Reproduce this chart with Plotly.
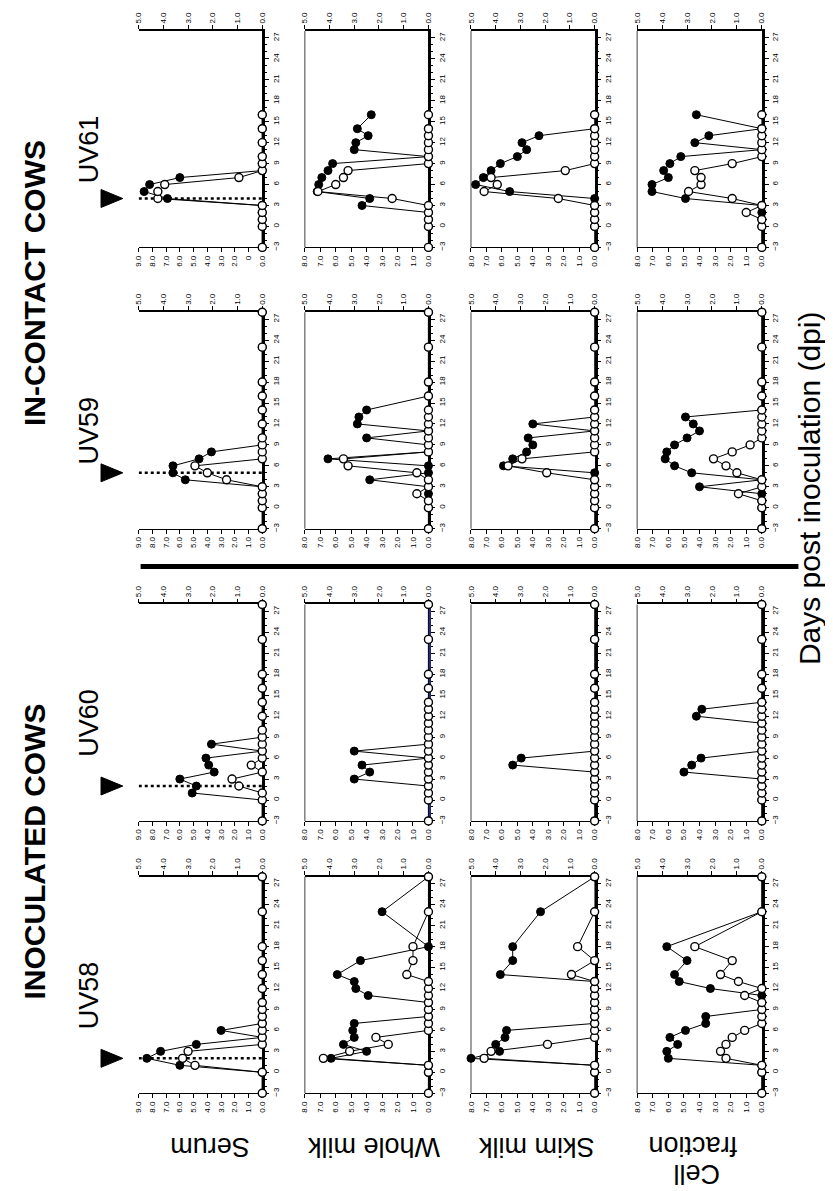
import plotly.graph_objects as go

# whole figure is the original landscape layout turned 90 deg (dpi runs upward)
W, H = 833, 1191

# sampling days
days_serum = [-3, 0, 1, 2, 3, 4, 5, 6, 7, 8, 9, 10, 12, 14, 16, 18, 23, 28]
days_milk = [-3, 0, 1, 2, 3, 4, 5, 6, 7, 8, 9, 10, 11, 12, 13, 14, 16, 18, 23, 28]
days_serum_61 = [-3, 0, 1, 2, 3, 4, 5, 6, 7, 8, 9, 10, 12, 14, 16]
days_milk_61 = [-3, 0, 1, 2, 3, 4, 5, 6, 7, 8, 9, 10, 11, 12, 13, 14, 16]

# UV58
uv58_serum_filled = [0, 0, 6.0, 8.4, 7.4, 4.8, 0, 3.0, 0, 0, 0, 0, 0, 0, 0, 0, 0, 0]
uv58_serum_open = [0, 0, 4.9, 5.8, 5.4, 0, 0, 0, 0, 0, 0, 0, 0, 0, 0, 0, 0, 0]
uv58_whole_filled = [0, 0, 0, 6.3, 4.0, 5.5, 4.8, 4.9, 4.8, 0, 0, 0, 3.9, 4.7, 4.8, 5.9, 4.4, 0, 3.0, 0]
uv58_whole_open = [0, 0, 0, 6.8, 5.1, 2.6, 3.4, 0, 0, 0, 0, 0, 0, 0, 0, 1.4, 1.0, 1.0, 0, 0]
uv58_skim_filled = [0, 0, 0, 8.0, 6.15, 6.4, 5.8, 5.7, 0, 0, 0, 0, 0, 0, 0, 6.1, 5.3, 5.3, 3.5, 0]
uv58_skim_open = [0, 0, 0, 7.15, 6.7, 3.05, 0, 0, 0, 0, 0, 0, 0, 0, 0, 1.5, 0, 1.1, 0, 0]
uv58_cell_filled = [0, 0, 0, 6.0, 6.1, 5.4, 5.9, 4.9, 3.6, 3.6, 0, 0, 0, 3.3, 5.3, 5.6, 4.8, 6.1, 0, 0]
uv58_cell_open = [0, 0, 0, 2.3, 2.65, 2.3, 1.9, 1.1, 0, 0, 0, 0, 1.1, 0, 1.5, 2.65, 1.9, 4.3, 0, 0]

# UV60
uv60_serum_filled = [0, 0, 5.1, 4.8, 6.0, 3.5, 3.9, 4.1, 0, 3.7, 0, 0, 0, 0, 0, 0, 0, 0]
uv60_serum_open = [0, 0, 0, 1.7, 2.2, 0, 0.8, 0, 0, 0, 0, 0, 0, 0, 0, 0, 0, 0]
uv60_whole_filled = [0, 0, 0, 0, 4.8, 3.8, 4.3, 0, 4.8, 0, 0, 0, 0, 0, 0, 0, 0, 0, 0, 0]
uv60_whole_open = [0] * 20
uv60_skim_filled = [0, 0, 0, 0, 0, 0, 5.3, 4.75, 0, 0, 0, 0, 0, 0, 0, 0, 0, 0, 0, 0]
uv60_skim_open = [0] * 20
uv60_cell_filled = [0, 0, 0, 0, 0, 5.0, 4.5, 3.9, 0, 0, 0, 0, 0, 4.2, 3.85, 0, 0, 0, 0, 0]
uv60_cell_open = [0] * 20

# UV59
uv59_serum_filled = [0, 0, 0, 0, 0, 5.6, 6.5, 6.5, 4.6, 3.7, 0, 0, 0, 0, 0, 0, 0, 0]
uv59_serum_open = [0, 0, 0, 0, 0, 2.6, 4.0, 4.9, 0, 0, 0, 0, 0, 0, 0, 0, 0, 0]
uv59_whole_filled = [0, 0, 0, 0, 0, 3.8, 0, 0, 6.5, 0, 0, 4.0, 0, 4.6, 4.5, 4.0, 0, 0, 0, 0]
uv59_whole_open = [0, 0, 0, 0.75, 0, 0, 0.75, 5.2, 5.5, 0, 0, 0, 0, 0, 0, 0, 0, 0, 0, 0]
uv59_skim_filled = [0, 0, 0, 0, 0, 0, 0, 5.9, 5.3, 4.4, 4.0, 4.3, 0, 4.0, 0, 0, 0, 0, 0, 0]
uv59_skim_open = [0, 0, 0, 0, 0, 0, 3.1, 5.6, 4.7, 0, 0, 0, 0, 0, 0, 0, 0, 0, 0, 0]
uv59_cell_filled = [0, 0, 0, 0, 4.0, 0, 4.5, 5.6, 6.2, 6.1, 5.6, 4.8, 4.0, 4.4, 4.9, 0, 0, 0, 0, 0]
uv59_cell_open = [0, 0, 0, 1.5, 0, 0, 1.6, 2.3, 3.1, 1.9, 0.75, 0, 0, 0, 0, 0, 0, 0, 0, 0]

# UV61
uv61_serum_filled = [0, 0, 0, 0, 0, 6.9, 8.6, 8.2, 6.0, 0, 0, 0, 0, 0, 0]
uv61_serum_open = [0, 0, 0, 0, 0, 7.6, 7.6, 7.1, 1.7, 0, 0, 0, 0, 0, 0]
uv61_whole_filled = [0, 0, 0, 0, 4.3, 3.8, 7.2, 7.1, 6.9, 6.5, 6.2, 0, 4.8, 4.7, 3.9, 4.6, 3.7]
uv61_whole_open = [0, 0, 0, 0, 0, 2.35, 7.15, 6.0, 5.5, 5.2, 0, 0, 0, 0, 0, 0, 0]
uv61_skim_filled = [0, 0, 0, 0, 0, 0, 5.5, 7.7, 7.2, 6.7, 6.1, 5.0, 4.4, 4.7, 3.6, 0, 0]
uv61_skim_open = [0, 0, 0, 0, 0, 2.35, 7.15, 6.3, 6.7, 1.9, 0, 0, 0, 0, 0, 0, 0]
uv61_cell_filled = [0, 0, 0, 0, 0, 4.9, 7.05, 7.05, 6.0, 6.3, 5.9, 5.2, 0, 4.3, 3.4, 0, 4.2]
uv61_cell_open = [0, 0, 0, 1.0, 0, 1.9, 4.7, 3.9, 3.9, 4.3, 1.9, 0, 0, 0, 0, 0, 0]

inoculation_day = {"UV58": 2, "UV60": 2, "UV59": 5, "UV61": 4}

cows = ["UV61", "UV59", "UV60", "UV58"]  # top to bottom on the page
samples = ["serum", "whole", "skim", "cell"]
vmax = {"serum": 9, "whole": 8, "skim": 8, "cell": 8}

# pixel geometry
col_left = [128, 296, 464, 632]
col_right = [253, 421, 589, 758]
row_bottom = {"UV61": 240, "UV59": 522, "UV60": 815, "UV58": 1088}
row_span = 217

g = globals()


def px(x):
    return x / W


def py(y):
    return 1 - y / H


fig = go.Figure()
layout = {}
shapes = []
ann = []
k = 0
nsec = 16
for cow in cows:
    for c, s in enumerate(samples):
        k += 1
        if cow == "UV61":
            days = days_serum_61 if s == "serum" else days_milk_61
        else:
            days = days_serum if s == "serum" else days_milk
        filled = g[f"{cow.lower()}_{s}_filled"]
        opened = g[f"{cow.lower()}_{s}_open"]
        vm = vmax[s]
        xa, ya = f"x{k}", f"y{k}"
        xs = f"x{k + nsec}"

        fig.add_trace(go.Scatter(x=filled, y=days, xaxis=xa, yaxis=ya, mode="lines+markers",
                                 line=dict(color="black", width=1),
                                 marker=dict(size=8, color="black", line=dict(color="black", width=1)),
                                 cliponaxis=False, hoverinfo="skip"))
        fig.add_trace(go.Scatter(x=opened, y=days, xaxis=xa, yaxis=ya, mode="lines+markers",
                                 line=dict(color="black", width=1),
                                 marker=dict(size=8, color="white", line=dict(color="black", width=1.4)),
                                 cliponaxis=False, hoverinfo="skip"))
        # dummy trace to keep the top axis alive
        fig.add_trace(go.Scatter(x=[0], y=[0], xaxis=xs, yaxis=ya, mode="markers",
                                 marker=dict(opacity=0), hoverinfo="skip"))

        dom_x = [px(col_left[c]), px(col_right[c])]
        yb = row_bottom[cow]
        dom_y = [py(yb), py(yb - row_span)]

        vtext = ["%.1f" % v for v in range(vm + 1)]
        if s == "serum" and cow == "UV61":
            vtext[1] = "0"

        layout[f"xaxis{k}"] = dict(domain=dom_x, anchor=ya, range=[vm, 0], showgrid=False, zeroline=False,
                                   showline=True, linecolor="black", linewidth=1.2, layer="below traces",
                                   ticks="outside", ticklen=4, tickcolor="black", tickwidth=1,
                                   tickvals=list(range(vm + 1)), ticktext=vtext, tickangle=-90,
                                   tickfont=dict(size=8, color="black", family="Arial"))
        layout[f"xaxis{k + nsec}"] = dict(overlaying=xa, anchor=ya, side="top", range=[5, 0],
                                          showgrid=False, zeroline=False, showline=True,
                                          linecolor="black", linewidth=1.5, layer="below traces",
                                          ticks="outside", ticklen=4, tickcolor="black", tickwidth=1.2,
                                          tickvals=[0, 1, 2, 3, 4, 5],
                                          ticktext=["0.0", "1.0", "2.0", "3.0", "4.0", "5.0"],
                                          tickangle=-90, tickfont=dict(size=8, color="black", family="Arial"))
        zcol = "#2a2a7a" if (cow == "UV60" and s == "whole") else "black"
        layout[f"yaxis{k}"] = dict(domain=dom_y, anchor=xa, side="right", range=[-3, 28],
                                   showgrid=False, zeroline=False, showline=True, linecolor=zcol,
                                   linewidth=2.5, layer="below traces",
                                   ticks="outside", ticklen=4, tickcolor="black", tickwidth=1,
                                   tickvals=list(range(-3, 28, 3)), tickangle=-90,
                                   tickfont=dict(size=8, color="black", family="Arial"),
                                   minor=dict(tickvals=list(range(-3, 28)), ticks="outside", ticklen=2,
                                              tickcolor="black"))

        if s != "serum":
            shapes.append(dict(type="line", xref=f"{xa} domain", yref=f"{ya} domain",
                               x0=0, x1=0, y0=0, y1=1, line=dict(color="#808080", width=1.5),
                               layer="below"))
        else:
            d = inoculation_day[cow]
            shapes.append(dict(type="line", xref=xa, yref=ya, x0=vm + 1.3, x1=0, y0=d, y1=d,
                               line=dict(color="black", width=2.5, dash="dot"), layer="below"))
            # arrowhead marking the inoculation day
            ty = yb - (d + 3) / 31 * row_span
            path = "M %f %f L %f %f L %f %f Z" % (px(90), py(ty - 9), px(112), py(ty),
                                                  px(90), py(ty + 9))
            shapes.append(dict(type="path", xref="paper", yref="paper", path=path,
                               fillcolor="black", line=dict(color="black", width=1)))

# cow labels and group headers
label_font = dict(family="Arial", size=27, color="black")
for cow in cows:
    yc = row_bottom[cow] - row_span / 2 + 10
    ann.append(dict(x=px(78), y=py(yc), xref="paper", yref="paper", text=cow, showarrow=False,
                    textangle=-90, font=label_font, xanchor="center", yanchor="middle"))
ann.append(dict(x=px(23), y=py(846), xref="paper", yref="paper", text="<b>INOCULATED COWS</b>",
                showarrow=False, textangle=-90, font=dict(family="Arial", size=30, color="black"),
                xanchor="center", yanchor="middle"))
ann.append(dict(x=px(23), y=py(276), xref="paper", yref="paper", text="<b>IN-CONTACT COWS</b>",
                showarrow=False, textangle=-90, font=dict(family="Arial", size=30, color="black"),
                xanchor="center", yanchor="middle"))

# sample labels, upside down along the bottom
sample_labels = ["Serum", "Whole milk", "Skim milk", "fraction", "Cell"]
label_x = [200, 366, 530, 688, 692]
label_y = [1142, 1142, 1142, 1141, 1169]
for lx, ly, lab in zip(label_x, label_y, sample_labels):
    ann.append(dict(x=px(lx), y=py(ly), xref="paper", yref="paper", text=lab, showarrow=False,
                    textangle=180, font=dict(family="Arial", size=27, color="black"),
                    xanchor="center", yanchor="middle"))

ann.append(dict(x=px(806), y=py(481), xref="paper", yref="paper", text="Days post inoculation (dpi)",
                showarrow=False, textangle=-90, font=dict(family="Arial", size=30, color="black"),
                xanchor="center", yanchor="middle"))

# heavy divider between the two groups
shapes.append(dict(type="line", xref="paper", yref="paper", x0=px(130), x1=px(795),
                   y0=py(560), y1=py(560), line=dict(color="black", width=5)))

fig.update_layout(width=W, height=H, margin=dict(l=0, r=0, t=0, b=0), autosize=False,
                  paper_bgcolor="white", plot_bgcolor="white", showlegend=False,
                  shapes=shapes, annotations=ann, **layout)

fig.write_html("out.html")
